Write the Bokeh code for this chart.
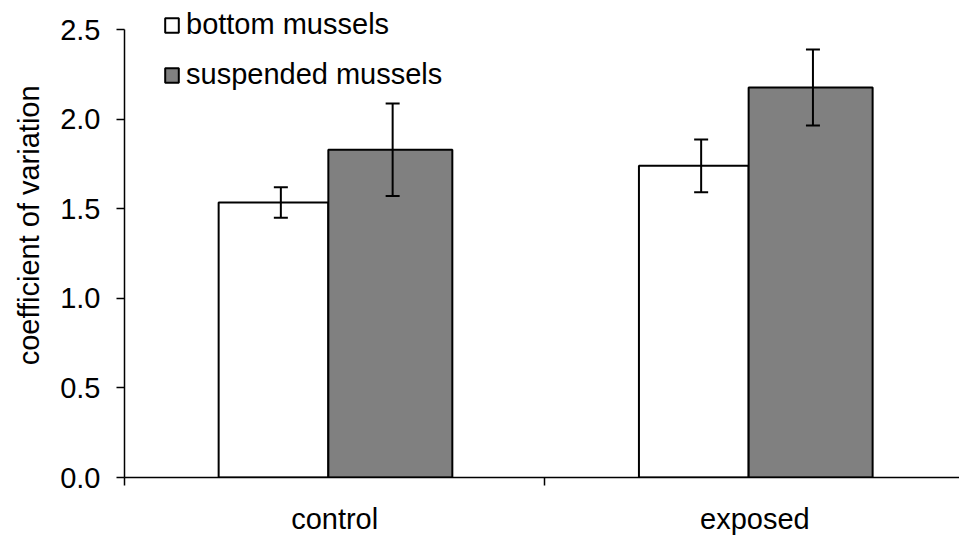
from bokeh.plotting import figure
from bokeh.models import (ColumnDataSource, Range1d, FixedTicker, Whisker, TeeHead,
                          Legend, LegendItem)
from bokeh.embed import file_html
from bokeh.resources import INLINE

# ---- data ----
categories = ["control", "exposed"]
bottom_mean = [1.535, 1.74]
bottom_err = [0.085, 0.147]
suspended_mean = [1.83, 2.177]
suspended_err = [0.258, 0.212]
y_ticks = [0.0, 0.5, 1.0, 1.5, 2.0, 2.5]
y_label = "coefficient of  variation"
series_names = ["bottom mussels", "suspended mussels"]

# ---- style constants ----
FONT = "Liberation Sans"
FS = "29px"
BOT_OFF, BOT_W = -0.1455, 0.261
SUS_OFF, SUS_W = 0.1325, 0.295
BOT_ERR_OFF, SUS_ERR_OFF = -0.128, 0.138
NBSP = "\u00a0"

centers = [i + 0.5 for i in range(len(categories))]

src_b = ColumnDataSource(dict(
    x=[c + BOT_OFF for c in centers], top=bottom_mean,
    xe=[c + BOT_ERR_OFF for c in centers],
    up=[m + e for m, e in zip(bottom_mean, bottom_err)],
    lo=[m - e for m, e in zip(bottom_mean, bottom_err)]))
src_s = ColumnDataSource(dict(
    x=[c + SUS_OFF for c in centers], top=suspended_mean,
    xe=[c + SUS_ERR_OFF for c in centers],
    up=[m + e for m, e in zip(suspended_mean, suspended_err)],
    lo=[m - e for m, e in zip(suspended_mean, suspended_err)]))

p = figure(width=959, height=539, output_backend="svg", toolbar_location=None,
           x_range=Range1d(0, 1.9867), y_range=Range1d(0, 2.635),
           min_border_left=124, min_border_right=0, min_border_top=5,
           min_border_bottom=62)
p.outline_line_color = None
p.xgrid.visible = False
p.ygrid.visible = False
p.background_fill_color = "white"
p.border_fill_color = "white"

rb = p.vbar(x="x", top="top", width=BOT_W, bottom=0, source=src_b,
            fill_color="white", line_color="black", line_width=2)
rs = p.vbar(x="x", top="top", width=SUS_W, bottom=0, source=src_s,
            fill_color="#808080", line_color="black", line_width=2)

for src in (src_b, src_s):
    w = Whisker(base="xe", upper="up", lower="lo", source=src,
                line_color="black", line_width=2, level="overlay",
                upper_head=TeeHead(size=14, line_width=2, line_color="black"),
                lower_head=TeeHead(size=14, line_width=2, line_color="black"))
    p.add_layout(w)

# axes
xa = p.xaxis[0]
xa.ticker = FixedTicker(ticks=centers, minor_ticks=[0.0, 1.0])
xa.major_label_overrides = {c: name for c, name in zip(centers, categories)}
xa.major_tick_out = 0
xa.major_tick_in = 0
xa.minor_tick_out = 8
xa.minor_tick_in = 0
xa.minor_tick_line_color = "black"
xa.minor_tick_line_width = 1.5
xa.axis_line_color = "black"
xa.axis_line_width = 1.5
xa.major_label_standoff = 17
xa.major_label_text_font = FONT
xa.major_label_text_font_size = FS
xa.major_label_text_color = "black"

ya = p.yaxis[0]
ya.bounds = (y_ticks[0], y_ticks[-1])
ya.ticker = FixedTicker(ticks=y_ticks)
ya.major_label_overrides = {t: f"{t:.1f}" for t in y_ticks}
ya.major_tick_out = 8
ya.major_tick_in = 0
ya.minor_tick_line_color = None
ya.major_tick_line_color = "black"
ya.major_tick_line_width = 1.5
ya.axis_line_color = "black"
ya.axis_line_width = 1.5
ya.major_label_standoff = 16
ya.major_label_text_font = FONT
ya.major_label_text_font_size = FS
ya.major_label_text_color = "black"
ya.axis_label = NBSP * 5 + y_label
ya.axis_label_standoff = 12
ya.axis_label_text_font = FONT
ya.axis_label_text_font_size = FS
ya.axis_label_text_font_style = "normal"
ya.axis_label_text_color = "black"

legend = Legend(items=[LegendItem(label=series_names[0], renderers=[rb]),
                       LegendItem(label=series_names[1], renderers=[rs])],
                location=(39, 386), padding=0, margin=0, spacing=17,
                glyph_width=17, glyph_height=18, label_standoff=6,
                label_text_font=FONT, label_text_font_size=FS,
                label_text_color="black",
                background_fill_alpha=0, border_line_alpha=0)
p.add_layout(legend, "center")

open("out.html", "w").write(file_html(p, INLINE))
